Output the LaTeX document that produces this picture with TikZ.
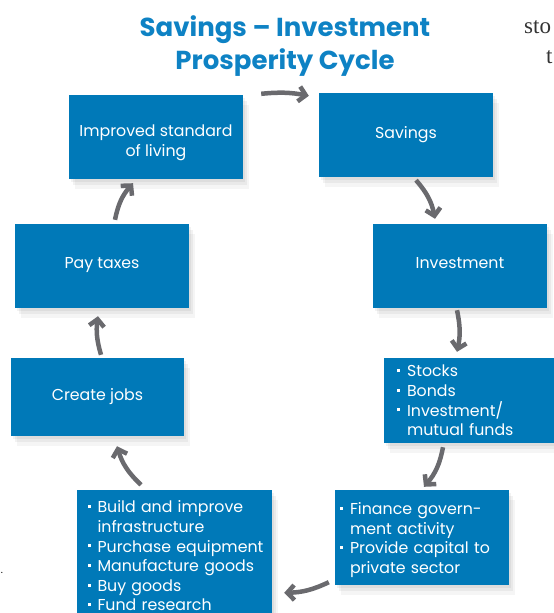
\documentclass[tikz,border=0pt]{standalone}
\usepackage{fontspec}
\setmainfont{Poppins}
\newfontfamily\pageserif{Liberation Serif}
\usetikzlibrary{arrows.meta,shadows,calc}
\definecolor{boxblue}{RGB}{0,121,184}
\definecolor{titleblue}{RGB}{14,130,196}
\definecolor{arrowgray}{RGB}{106,106,110}
\newcommand\itm{\makebox[10pt][l]{\raisebox{4.8pt}{\rule{3pt}{3pt}}}}
\newcommand\cnt{\hspace*{10pt}}
\newcommand\litm{\hspace*{5.5pt}\itm}
\newcommand\lcnt{\hspace*{15.5pt}}
\begin{document}
\begin{tikzpicture}[x=1pt,y=-1pt,
  box/.style={fill=boxblue, text=white, inner sep=0pt,
    font=\fontsize{15.8}{19.6}\selectfont, align=center,
    general shadow={fill=black,opacity=0.05,shadow xshift=2pt,shadow yshift=-3pt},
    general shadow={fill=black,opacity=0.05,shadow xshift=4pt,shadow yshift=-6pt},
    general shadow={fill=black,opacity=0.04,shadow xshift=6pt,shadow yshift=-10pt}},
  cyc/.style={box, minimum width=174pt, minimum height=84pt},
  listbox/.style={box, align=left},
  arr/.style={draw=arrowgray, line width=4.5pt,
    -{Straight Barb[length=7pt,width=15pt]}},
  titlestyle/.style={text=titleblue, font=\fontsize{26}{33}\bfseries\selectfont, align=center, inner sep=0pt},
  pagetext/.style={text=black!80, font=\pageserif\fontsize{23}{26}\selectfont, inner sep=0pt, anchor=base west}]
\useasboundingbox (0,0) rectangle (554,613);

\node[titlestyle] (title) at (285,46) {Savings -- Investment\\Prosperity Cycle};
\node[pagetext] (sto) at (524,33) {sto};
\node[pagetext] (tt) at (546,63) {t};
\node[text=black, font=\fontsize{10}{12}\selectfont, inner sep=0pt] (dot) at (2,573) {.};

\node[cyc] (imp) at (156,137) {\rule{0pt}{23pt}Improved standard\\of living};
\node[cyc] (sav) at (406,135) {Savings};
\node[cyc, text depth=6pt] (inv) at (460,266) {Investment};
\node[cyc, text depth=6pt] (tax) at (102,266) {Pay taxes};
\node[cyc, minimum width=173pt, minimum height=78pt] (job) at (97.5,397) {Create jobs};

\node[listbox, minimum width=170pt, minimum height=85pt, text width=144pt, inner xsep=13pt] (stk) at (469,400.5)
  {\itm Stocks\\\itm Bonds\\\itm Investment/\\\cnt mutual funds};
\node[listbox, minimum width=174pt, minimum height=95pt, text width=164pt, inner xsep=5pt] (fin) at (422,537.5)
  {\rule{0pt}{17pt}\itm Finance govern-\\\cnt ment activity\\\itm Provide capital to\\\cnt private sector};
\node[listbox, minimum width=195pt, minimum height=132pt, text width=185pt, inner xsep=5pt] (bld) at (174.5,556)
  {\lcnt\hspace*{-10pt}\itm Build and improve\\\lcnt infrastructure\\\litm Purchase equipment\\\litm Manufacture goods\\\litm Buy goods\\\litm Fund research};

\coordinate (a1s) at ($(imp.north east)+(18,-1)$);
\coordinate (a1e) at ($(sav.north west)+(-10,3)$);
\coordinate (a2s) at ($(sav.south)+(10,3)$);
\coordinate (a2e) at ($(inv.north)+(-25,-5)$);
\coordinate (a3s) at ($(inv.south)+(-3,2)$);
\coordinate (a3e) at ($(stk.north)+(-12,-6)$);
\coordinate (a4s) at ($(stk.south)+(-26,4)$);
\coordinate (a4e) at ($(fin.north)+(2,-3)$);
\coordinate (a5s) at ($(fin.south west)+(-6,-3)$);
\coordinate (a5e) at ($(bld.north east)+(12,103)$);
\coordinate (a6s) at ($(bld.north)+(-33.5,-5)$);
\coordinate (a6e) at ($(job.south)+(19.5,10)$);
\coordinate (a7s) at ($(job.north)+(3.5,-3)$);
\coordinate (a7e) at ($(tax.south)+(-4,8)$);
\coordinate (a8s) at ($(tax.north)+(13,-4)$);
\coordinate (a8e) at ($(imp.south)+(-23,4)$);

\draw[arr] (a1s) to[bend left=8] (a1e);
\draw[arr] (a2s) to[bend left=15] (a2e);
\draw[arr] (a3s) to[bend left=12] (a3e);
\draw[arr] (a4s) to[bend left=15] (a4e);
\draw[arr] (a5s) to[bend left=12] (a5e);
\draw[arr] (a6s) to[bend left=15] (a6e);
\draw[arr] (a7s) to[bend left=12] (a7e);
\draw[arr] (a8s) to[bend left=15] (a8e);
\end{tikzpicture}
\end{document}
